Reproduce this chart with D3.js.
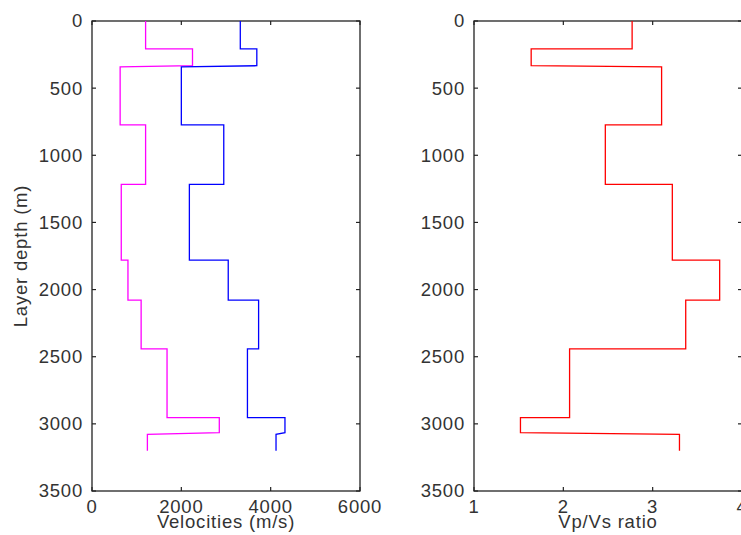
<!DOCTYPE html>
<html>
<head>
<meta charset="utf-8">
<script src="https://cdn.jsdelivr.net/npm/d3@7"></script>
<style>
  html, body { margin: 0; padding: 0; background: #fff; }
  svg { display: block; }
  text { font-family: "Liberation Sans", Arial, Helvetica, sans-serif; fill: #333; }
</style>
</head>
<body>
<svg id="chart" width="741" height="535"></svg>
<script>
// ---- data ----
const depthTop    = [0, 208, 342, 774, 1216, 1780, 2078, 2442, 2954, 3078];
const depthBottom = [208, 333, 774, 1216, 1780, 2078, 2442, 2954, 3066, 3200];
const vp    = [3320, 3690, 2000, 2950, 2180, 3050, 3730, 3480, 4320, 4120];
const vs    = [1200, 2250, 630, 1200, 655, 805, 1100, 1680, 2850, 1240];
const ratio = [2.77, 1.64, 3.10, 2.47, 3.22, 3.75, 3.37, 2.07, 1.52, 3.30];

const velTicks   = [0, 2000, 4000, 6000];
const ratioTicks = [1, 2, 3, 4];
const depthTicks = [0, 500, 1000, 1500, 2000, 2500, 3000, 3500];

const svg = d3.select("#chart");
const y = d3.scaleLinear().domain([0, 3500]).range([21, 491]);
const xVel = d3.scaleLinear().domain([0, 6000]).range([92, 360]);
const xRat = d3.scaleLinear().domain([1, 4]).range([474, 742]);

const FS = "18.5px";
const LS = "0.8px";

function stairPoints(vals) {
  const pts = [];
  vals.forEach((v, i) => {
    pts.push([v, depthTop[i]]);
    pts.push([v, depthBottom[i]]);
  });
  return pts;
}

function panel(x, ticks, xTitle, yTitle) {
  const [x0, x1] = x.range();
  const [y0, y1] = y.range();
  const g = svg.append("g");
  const tl = 4;
  depthTicks.forEach(t => {
    const yy = y(t);
    g.append("line").attr("x1", x0).attr("x2", x0 + tl).attr("y1", yy).attr("y2", yy)
      .attr("stroke", "#222").attr("stroke-width", 1.2);
    g.append("line").attr("x1", x1).attr("x2", x1 - tl).attr("y1", yy).attr("y2", yy)
      .attr("stroke", "#222").attr("stroke-width", 1.2);
    g.append("text").attr("x", x0 - 9).attr("y", yy).attr("dy", "0.35em")
      .attr("text-anchor", "end").style("font-size", FS).style("letter-spacing", LS)
      .text(t);
  });
  ticks.forEach(t => {
    const xx = x(t);
    g.append("line").attr("x1", xx).attr("x2", xx).attr("y1", y0).attr("y2", y0 + tl)
      .attr("stroke", "#222").attr("stroke-width", 1.2);
    g.append("line").attr("x1", xx).attr("x2", xx).attr("y1", y1).attr("y2", y1 - tl)
      .attr("stroke", "#222").attr("stroke-width", 1.2);
    g.append("text").attr("x", xx).attr("y", 513)
      .attr("text-anchor", "middle").style("font-size", FS).style("letter-spacing", LS)
      .text(t);
  });
  g.append("rect").attr("x", x0).attr("y", y0).attr("width", x1 - x0).attr("height", y1 - y0)
    .attr("fill", "none").attr("stroke", "#222").attr("stroke-width", 1.3);
  g.append("text").attr("x", (x0 + x1) / 2).attr("y", 527.5)
    .attr("text-anchor", "middle").style("font-size", FS).style("letter-spacing", LS)
    .text(xTitle);
  if (yTitle) {
    g.append("text").attr("transform", `translate(27,${(y0 + y1) / 2}) rotate(-90)`)
      .attr("text-anchor", "middle").style("font-size", FS).style("letter-spacing", LS)
      .text(yTitle);
  }
  return g;
}

const gL = panel(xVel, velTicks, "Velocities (m/s)", "Layer depth (m)");
const gR = panel(xRat, ratioTicks, "Vp/Vs ratio", null);

const lineVel = d3.line().x(d => xVel(d[0])).y(d => y(d[1]));
const lineRat = d3.line().x(d => xRat(d[0])).y(d => y(d[1]));

gL.append("path").attr("d", lineVel(stairPoints(vs)))
  .attr("fill", "none").attr("stroke", "#ff00ff").attr("stroke-width", 1.3);
gL.append("path").attr("d", lineVel(stairPoints(vp)))
  .attr("fill", "none").attr("stroke", "#0000ff").attr("stroke-width", 1.3);
gR.append("path").attr("d", lineRat(stairPoints(ratio)))
  .attr("fill", "none").attr("stroke", "#ff0000").attr("stroke-width", 1.3);
</script>
</body>
</html>
